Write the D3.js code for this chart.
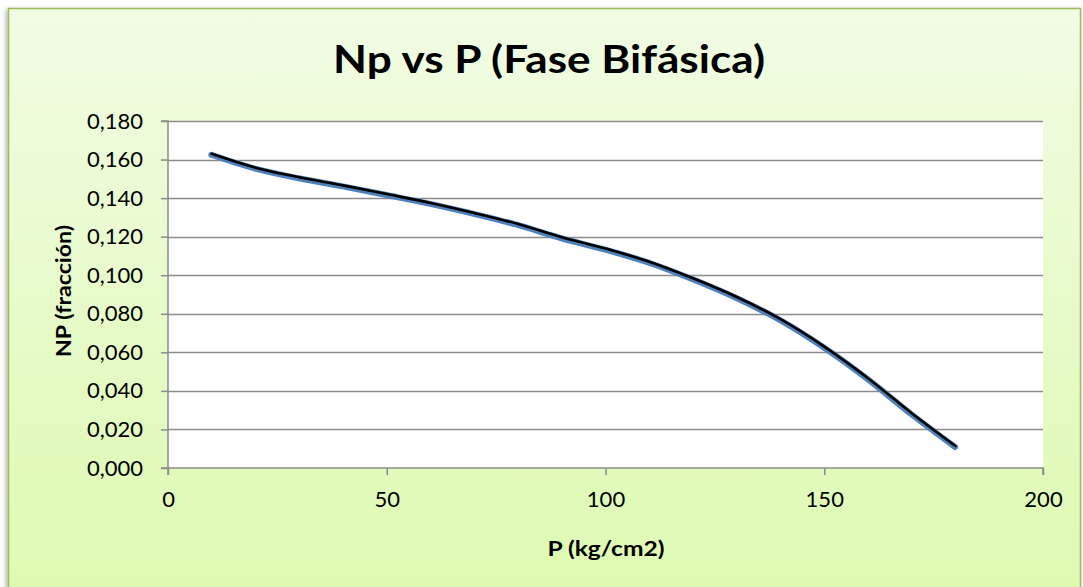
<!DOCTYPE html>
<html>
<head>
<meta charset="utf-8">
<script src="https://cdn.jsdelivr.net/npm/d3@7/dist/d3.min.js"></script>
<style>
  html, body { margin: 0; padding: 0; background: #ffffff; }
  svg { display: block; }
  text { font-family: Lato, "Open Sans", "DejaVu Sans", sans-serif; fill: #000; }
</style>
</head>
<body>
<svg id="chart" width="1083" height="587"></svg>
<script>
// Pressure (kg/cm2) and recovered fraction Np for the two-phase stage
const pressure = [10, 20, 30, 40, 50, 60, 70, 80, 90, 100, 110, 120, 130, 140, 150, 160, 170, 180];
const npFraction = [0.1630, 0.1558, 0.1508, 0.1466, 0.1421, 0.1375, 0.1323, 0.1266, 0.1197, 0.1138,
                    0.1070, 0.0984, 0.0887, 0.0772, 0.0630, 0.0466, 0.0284, 0.0114];

const xTicks = [0, 50, 100, 150, 200];
const yTicks = [0, 0.02, 0.04, 0.06, 0.08, 0.10, 0.12, 0.14, 0.16, 0.18];

const titleText = "Np vs P (Fase Bifásica)";
const xTitle = "P (kg/cm2)";
const yTitle = "NP (fracción)";

const svg = d3.select("#chart");
const plot = { left: 168, right: 1043, top: 121, bottom: 468 };

// Spanish number format: comma as decimal separator
const locale = d3.formatLocale({ decimal: ",", thousands: ".", grouping: [3], currency: ["", " €"] });
const fmtY = locale.format(".3f");

// Background panel with soft green gradient
const defs = svg.append("defs");
const grad = defs.append("linearGradient").attr("id", "bg").attr("x1", 0).attr("y1", 0).attr("x2", 0).attr("y2", 1);
grad.append("stop").attr("offset", "0%").attr("stop-color", "#f1fce4");
grad.append("stop").attr("offset", "100%").attr("stop-color", "#dcfaae");
const shadow = defs.append("filter").attr("id", "shadow").attr("x", "-5%").attr("y", "-5%").attr("width", "110%").attr("height", "110%");
shadow.append("feDropShadow").attr("dx", -1.5).attr("dy", 1.5).attr("stdDeviation", 2).attr("flood-color", "#000").attr("flood-opacity", 0.35);

svg.append("rect")
  .attr("x", 8.5).attr("y", 8.5).attr("width", 1072).attr("height", 620)
  .attr("fill", "url(#bg)").attr("stroke", "#9bbb59").attr("stroke-width", 1.5)
  .attr("filter", "url(#shadow)");

// Plot area
svg.append("rect")
  .attr("x", plot.left).attr("y", plot.top)
  .attr("width", plot.right - plot.left).attr("height", plot.bottom - plot.top)
  .attr("fill", "#ffffff");

const x = d3.scaleLinear().domain([0, 200]).range([plot.left, plot.right]);
const y = d3.scaleLinear().domain([0, 0.18]).range([plot.bottom, plot.top]);

// Horizontal gridlines
svg.append("g").selectAll("line")
  .data(yTicks.filter(d => d > 0))
  .join("line")
  .attr("x1", plot.left).attr("x2", plot.right)
  .attr("y1", d => Math.round(y(d)) + 0.5).attr("y2", d => Math.round(y(d)) + 0.5)
  .attr("stroke", "#8c8c8c").attr("stroke-width", 1.5);

// Y axis
const yAxis = svg.append("g")
  .attr("transform", `translate(${plot.left},0)`)
  .call(d3.axisLeft(y).tickValues(yTicks).tickFormat(fmtY).tickSize(7).tickPadding(18));
// X axis
const xAxis = svg.append("g")
  .attr("transform", `translate(0,${plot.bottom})`)
  .call(d3.axisBottom(x).tickValues(xTicks).tickFormat(d => String(d)).tickSize(7).tickPadding(16));

[yAxis, xAxis].forEach(g => {
  g.select(".domain").attr("stroke", "#8c8c8c").attr("stroke-width", 1.5);
  g.selectAll(".tick line").attr("stroke", "#8c8c8c").attr("stroke-width", 1.5);
  g.selectAll(".tick text").attr("font-family", "Lato, sans-serif").attr("font-size", 22).attr("fill", "#000");
});
yAxis.select(".domain").attr("d", `M-7,${plot.top}H0V${plot.bottom}H-7`);
xAxis.select(".domain").attr("d", `M${plot.left},7V0H${plot.right}V7`);

// Series line and trendline
const line = d3.line()
  .x(d => x(d[0]))
  .y(d => y(d[1]))
  .curve(d3.curveCatmullRom.alpha(0.5));
const pts = pressure.map((p, i) => [p, npFraction[i]]);

svg.append("path")
  .datum(pts)
  .attr("d", line)
  .attr("fill", "none")
  .attr("stroke", "#4f81bd")
  .attr("stroke-width", 6)
  .attr("stroke-linecap", "round")
  .attr("transform", "translate(-0.4,1)");

svg.append("path")
  .datum(pts)
  .attr("d", line)
  .attr("fill", "none")
  .attr("stroke", "#000000")
  .attr("stroke-width", 2.6)
  .attr("stroke-linecap", "round");

// Titles
svg.append("text")
  .attr("x", 549).attr("y", 73)
  .attr("text-anchor", "middle")
  .attr("font-size", 39).attr("font-weight", "bold")
  .attr("textLength", 432).attr("lengthAdjust", "spacingAndGlyphs")
  .text(titleText);

svg.append("text")
  .attr("x", 606).attr("y", 556)
  .attr("text-anchor", "middle")
  .attr("font-size", 20).attr("font-weight", "bold")
  .attr("textLength", 117).attr("lengthAdjust", "spacingAndGlyphs")
  .text(xTitle);

svg.append("text")
  .attr("transform", "translate(71,291) rotate(-90)")
  .attr("text-anchor", "middle")
  .attr("font-size", 20).attr("font-weight", "bold")
  .attr("textLength", 132).attr("lengthAdjust", "spacingAndGlyphs")
  .text(yTitle);
</script>
</body>
</html>
